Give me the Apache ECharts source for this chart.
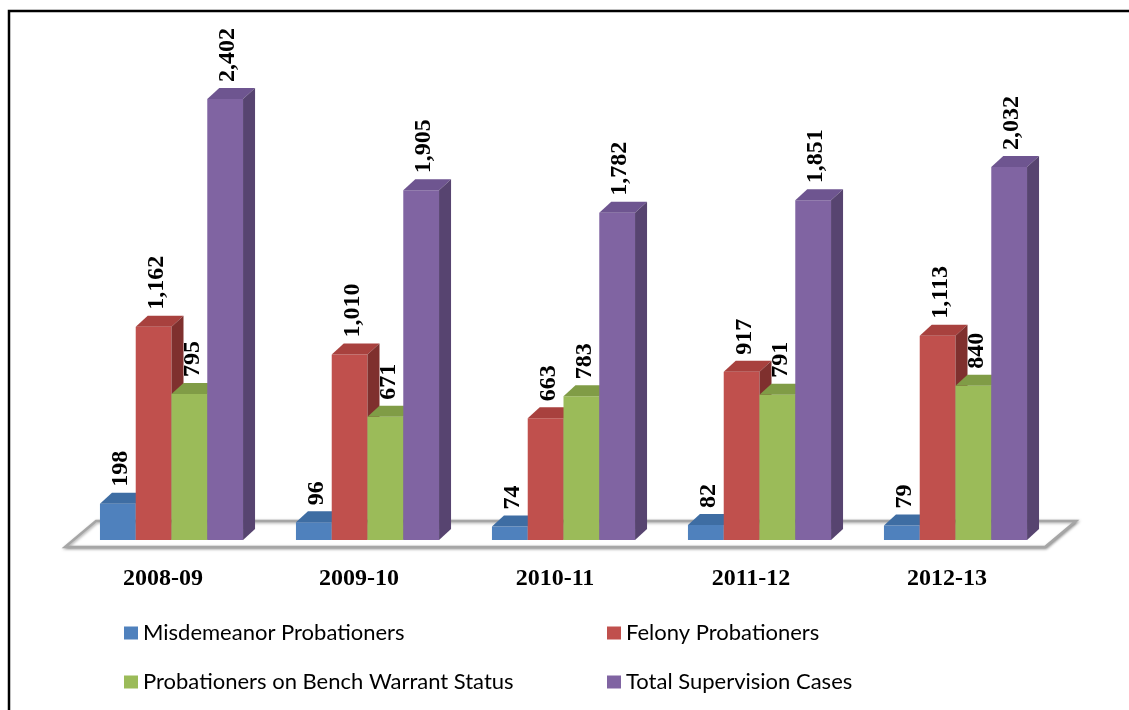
<!DOCTYPE html>
<html>
<head>
<meta charset="utf-8">
<script src="https://cdn.jsdelivr.net/npm/echarts@6/dist/echarts.min.js"></script>
<style>
  html, body { margin: 0; padding: 0; background: #fff; }
  #chart { width: 1129px; height: 710px; }
</style>
</head>
<body>
<div id="chart"></div>
<script>
// data
const years = ['2008-09', '2009-10', '2010-11', '2011-12', '2012-13'];
const misdemeanor = [198, 96, 74, 82, 79];
const felony = [1162, 1010, 663, 917, 1113];
const benchWarrant = [795, 671, 783, 791, 840];
const totalCases = [2402, 1905, 1782, 1851, 2032];

const seriesNames = ['Misdemeanor Probationers', 'Felony Probationers',
  'Probationers on Bench Warrant Status', 'Total Supervision Cases'];
const seriesData = [misdemeanor, felony, benchWarrant, totalCases];
// front / top / side colours
const palette = [
  ['#4F81BD', '#3E6DA3', '#385D8A'],
  ['#C0504D', '#A8413E', '#7F302E'],
  ['#9BBB59', '#809C46', '#6A833A'],
  ['#8064A2', '#6E5590', '#574470']
];

const chart = echarts.init(document.getElementById('chart'));

// depth of the floor and of the bars (pixel offsets toward the back)
const floorDx = 31, floorDy = 26;
const barOffX = 8.5, barOffY = 7;
const barDx = 12, barDy = 11;

function barRender(si) {
  return function (params, api) {
    const cat = api.value(0);
    const val = api.value(1);
    const top = api.coord([cat, val]);
    const base = api.coord([cat, 0]);
    const band = api.size([1, 0])[0];
    const bw = band * 0.73 / 4;
    const x0 = base[0] - 2 * bw + si * bw + barOffX;
    const yT = top[1] - barOffY;
    const yB = base[1] - barOffY;
    const c = palette[si];
    return {
      type: 'group',
      children: [
        { type: 'rect', shape: { x: x0, y: yT, width: bw, height: yB - yT }, style: { fill: c[0] } },
        { type: 'polygon', shape: { points: [[x0, yT], [x0 + barDx, yT - barDy], [x0 + bw + barDx, yT - barDy], [x0 + bw, yT]] }, style: { fill: c[1] } },
        { type: 'polygon', shape: { points: [[x0 + bw, yT], [x0 + bw + barDx, yT - barDy], [x0 + bw + barDx, yB - barDy], [x0 + bw, yB]] }, style: { fill: c[2] } },
        {
          type: 'text', x: x0 + bw / 2 + 3, y: yT - 17, rotation: Math.PI / 2,
          style: {
            text: echarts.format.addCommas(val),
            font: 'bold 24px "Liberation Serif", "Times New Roman", serif',
            fill: '#000',
            textAlign: 'left', textVerticalAlign: 'middle',
            align: 'left', verticalAlign: 'middle'
          }
        }
      ]
    };
  };
}

function floorRender(params, api) {
  const cs = params.coordSys;
  const yF = cs.y + cs.height;
  const pts = [[cs.x, yF], [cs.x + cs.width, yF],
    [cs.x + cs.width + floorDx, yF - floorDy], [cs.x + floorDx, yF - floorDy]];
  return {
    type: 'polygon',
    shape: { points: pts },
    style: { fill: '#fff', stroke: '#A6A6A6', lineWidth: 2.5, shadowBlur: 3, shadowColor: 'rgba(0,0,0,0.35)', shadowOffsetX: 1, shadowOffsetY: 1 }
  };
}

const legendPos = [[124, 622], [607, 622], [124, 671], [607, 671]];

const series = [{
  type: 'custom',
  name: 'floor',
  renderItem: floorRender,
  data: [[0, 0]],
  silent: true
}];
seriesData.forEach((arr, si) => {
  series.push({
    type: 'custom',
    name: seriesNames[si],
    itemStyle: { color: palette[si][0] },
    renderItem: barRender(si),
    encode: { x: 0, y: 1 },
    data: arr.map((v, i) => [i, v])
  });
});

const options = {
  animation: false,
  backgroundColor: '#fff',
  grid: { left: 65, right: 84, top: 88, bottom: 163 },
  xAxis: {
    type: 'category',
    data: years,
    axisLine: { show: false },
    axisTick: { show: false },
    axisLabel: {
      margin: 20,
      color: '#000',
      fontFamily: '"Liberation Serif", "Times New Roman", serif',
      fontWeight: 'bold',
      fontSize: 24
    }
  },
  yAxis: {
    type: 'value',
    min: 0,
    max: 2500,
    show: false
  },
  legend: seriesNames.map((n, i) => ({
    data: [n],
    left: legendPos[i][0],
    top: legendPos[i][1],
    padding: 0,
    icon: 'rect',
    itemWidth: 14,
    itemHeight: 13,
    selectedMode: false,
    textStyle: { fontFamily: 'Lato', fontSize: 22, color: '#000' }
  })),
  graphic: [{
    type: 'rect',
    shape: { x: 9, y: 11, width: 1300, height: 900 },
    style: { fill: null, stroke: '#000', lineWidth: 2.5 },
    silent: true
  }],
  series: series
};

chart.setOption(options);
</script>
</body>
</html>
